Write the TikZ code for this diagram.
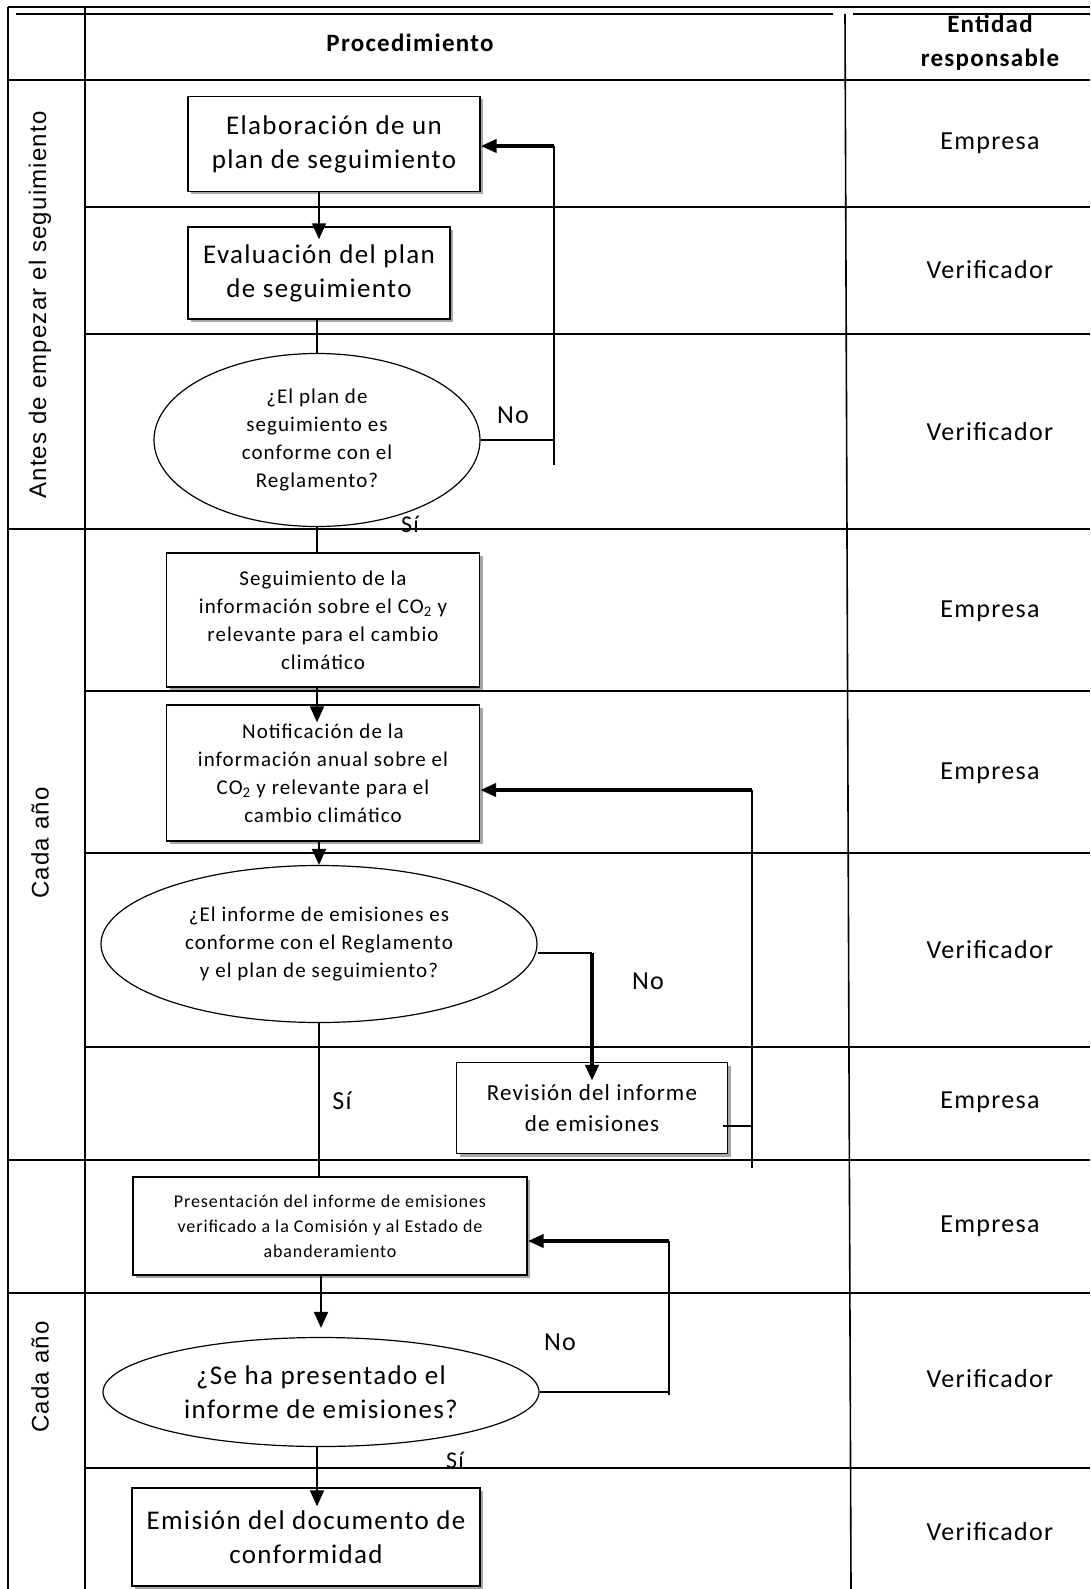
\documentclass[tikz,border=0pt]{standalone}
\usepackage{fontspec}
\setmainfont{Carlito}[LetterSpace=5]
\newfontfamily\sidefont{Liberation Sans}[LetterSpace=5]
\usepackage{tikz}
\usetikzlibrary{arrows.meta,shapes.geometric,shadows}

\begin{document}
\begin{tikzpicture}[x=1pt, y=-1pt,
	grid/.style={line width=1.6pt},
	box/.style={draw, line width=1.4pt, fill=white, align=center, inner sep=0pt,
		drop shadow={shadow xshift=3pt, shadow yshift=-3pt, fill=gray!70, opacity=1}},
	decision/.style={draw, ellipse, line width=1.2pt, fill=white, align=center, inner sep=0pt},
	link/.style={line width=1.6pt},
	arr/.style={line width=2pt, -{Triangle[length=16pt,width=14pt]}},
	bigarr/.style={line width=4pt, -{Triangle[length=16pt,width=13pt]}},
	small/.style={font=\fontsize{21}{28}\selectfont},
	tiny/.style={font=\fontsize{18}{25}\selectfont},
	big/.style={font=\fontsize{27}{34}\selectfont},
	who/.style={font=\fontsize{26}{30}\selectfont},
	side/.style={font=\sidefont\fontsize{24}{28}\selectfont, rotate=90}]
	\useasboundingbox (0,0) rectangle (1090,1589);

	% Draw table
	\draw[grid] (8,7) -- (1090,7);
	\draw[grid] (16,14) -- (833,14);
	\draw[grid] (853,14) -- (1090,14);
	\draw[grid] (8,7) -- (8,1589);
	\draw[grid] (85,7) -- (85,1589);
	\draw[grid] (845,14) -- (851,1589);
	\foreach \y in {80,529,1160,1293}
		\draw[grid] (8,\y) -- (1090,\y);
	\foreach \y in {207,334,691,853,1047,1468}
		\draw[grid] (85,\y) -- (1090,\y);

	% Header
	\node (proc) at (410,43) [font=\fontsize{25}{30}\selectfont\bfseries] {Procedimiento};
	\node (resp) at (990,43) [font=\fontsize{25}{34}\selectfont\bfseries, align=center] {Entidad\\responsable};

	% Side labels
	\node (before) at (40,305) [side] {Antes de empezar el seguimiento};
	\node (year1) at (40,843) [side] {Cada año};
	\node (year2) at (40,1377) [side] {Cada año};

	% Responsible
	\node (r1) at (990,143) [who] {Empresa};
	\node (r2) at (990,270) [who] {Verificador};
	\node (r3) at (990,432) [who] {Verificador};
	\node (r4) at (990,611) [who] {Empresa};
	\node (r5) at (990,773) [who] {Empresa};
	\node (r6) at (990,950) [who] {Verificador};
	\node (r7) at (990,1102) [who] {Empresa};
	\node (r8) at (990,1226) [who] {Empresa};
	\node (r9) at (990,1379) [who] {Verificador};
	\node (r10) at (990,1532) [who] {Verificador};

	% Steps
	\node (plan) at (334,144) [box, big, minimum width=292, minimum height=95] {Elaboración de un\\plan de seguimiento};
	\node (eval) at (319,273) [box, big, minimum width=262, minimum height=92] {Evaluación del plan\\de seguimiento};
	\node (okplan) at (317,440) [decision, small, minimum width=326, minimum height=173] {¿El plan de\\seguimiento es\\conforme con el\\Reglamento?};
	\node (track) at (323,620) [box, small, minimum width=313, minimum height=134] {Seguimiento de la\\información sobre el CO\textsubscript{2} y\\relevante para el cambio\\climático};
	\node (notify) at (323,773) [box, small, minimum width=313, minimum height=136] {Notificación de la\\información anual sobre el\\CO\textsubscript{2} y relevante para el\\cambio climático};
	\node (okrep) at (319,944) [decision, small, minimum width=436, minimum height=157] {¿El informe de emisiones es\\conforme con el Reglamento\\y el plan de seguimiento?};
	\node (review) at (592,1108) [box, font=\fontsize{23}{31}\selectfont, minimum width=271, minimum height=91] {Revisión del informe\\de emisiones};
	\node (submit) at (330,1226) [box, tiny, minimum width=394, minimum height=98] {Presentación del informe de emisiones\\verificado a la Comisión y al Estado de\\abanderamiento};
	\node (done) at (321,1392) [decision, big, minimum width=436, minimum height=109] {¿Se ha presentado el\\informe de emisiones?};
	\node (doc) at (306,1537) [box, big, minimum width=348, minimum height=98] {Emisión del documento de\\conformidad};

	% Return points
	\coordinate (back1) at (554,146);
	\coordinate (end1) at (554,465);
	\coordinate (turn2) at (592,953);
	\coordinate (back2) at (752,790);
	\coordinate (end2) at (752,1168);
	\coordinate (fix2) at (723,1126);
	\coordinate (back3) at (669,1241);
	\coordinate (end3) at (669,1395);

	% Main flow
	\draw[arr, shorten >=-13pt] (eval.north |- plan.south) -- (eval.north);
	\draw[link] (okplan.north |- eval.south) -- (okplan.north);
	\draw[link] (okplan.south) -- (okplan.south |- track.north);
	\draw[arr, shorten >=-18pt] (okplan.south |- track.south) -- (okplan.south |- notify.north);
	\draw[arr] (okrep.north |- notify.south) -- (okrep.north);
	\draw[link] (okrep.south) -- (okrep.south |- submit.north);
	\draw[arr, shorten >=9pt] (done.north |- submit.south) -- (done.north);
	\draw[arr, shorten >=-19pt] (okplan.south |- done.south) -- (okplan.south |- doc.north);

	% Loops
	\draw[link] (okplan.east) -- (okplan.east -| back1);
	\draw[link] (back1) -- (end1);
	\draw[bigarr] (back1) -- (back1 -| plan.east);
	\draw[link] (okrep.east |- turn2) -- (turn2);
	\draw[bigarr, shorten >=-19pt] (turn2) -- (turn2 |- review.north);
	\draw[link] (fix2) -- (fix2 -| back2);
	\draw[link] (back2) -- (end2);
	\draw[bigarr] (back2) -- (back2 -| notify.east);
	\draw[link] (done.east) -- (done.east -| back3);
	\draw[link] (back3) -- (end3);
	\draw[bigarr] (back3) -- (back3 -| submit.east);

	% Labels
	\node (no1) at (513,415) [who] {No};
	\node (yes1) at (410,524) [font=\fontsize{24}{26}\selectfont] {Sí};
	\node (no2) at (648,981) [who] {No};
	\node (yes2) at (342,1101) [who] {Sí};
	\node (no3) at (560,1342) [who] {No};
	\node (yes3) at (455,1460) [font=\fontsize{24}{26}\selectfont] {Sí};

\end{tikzpicture}
\end{document}
